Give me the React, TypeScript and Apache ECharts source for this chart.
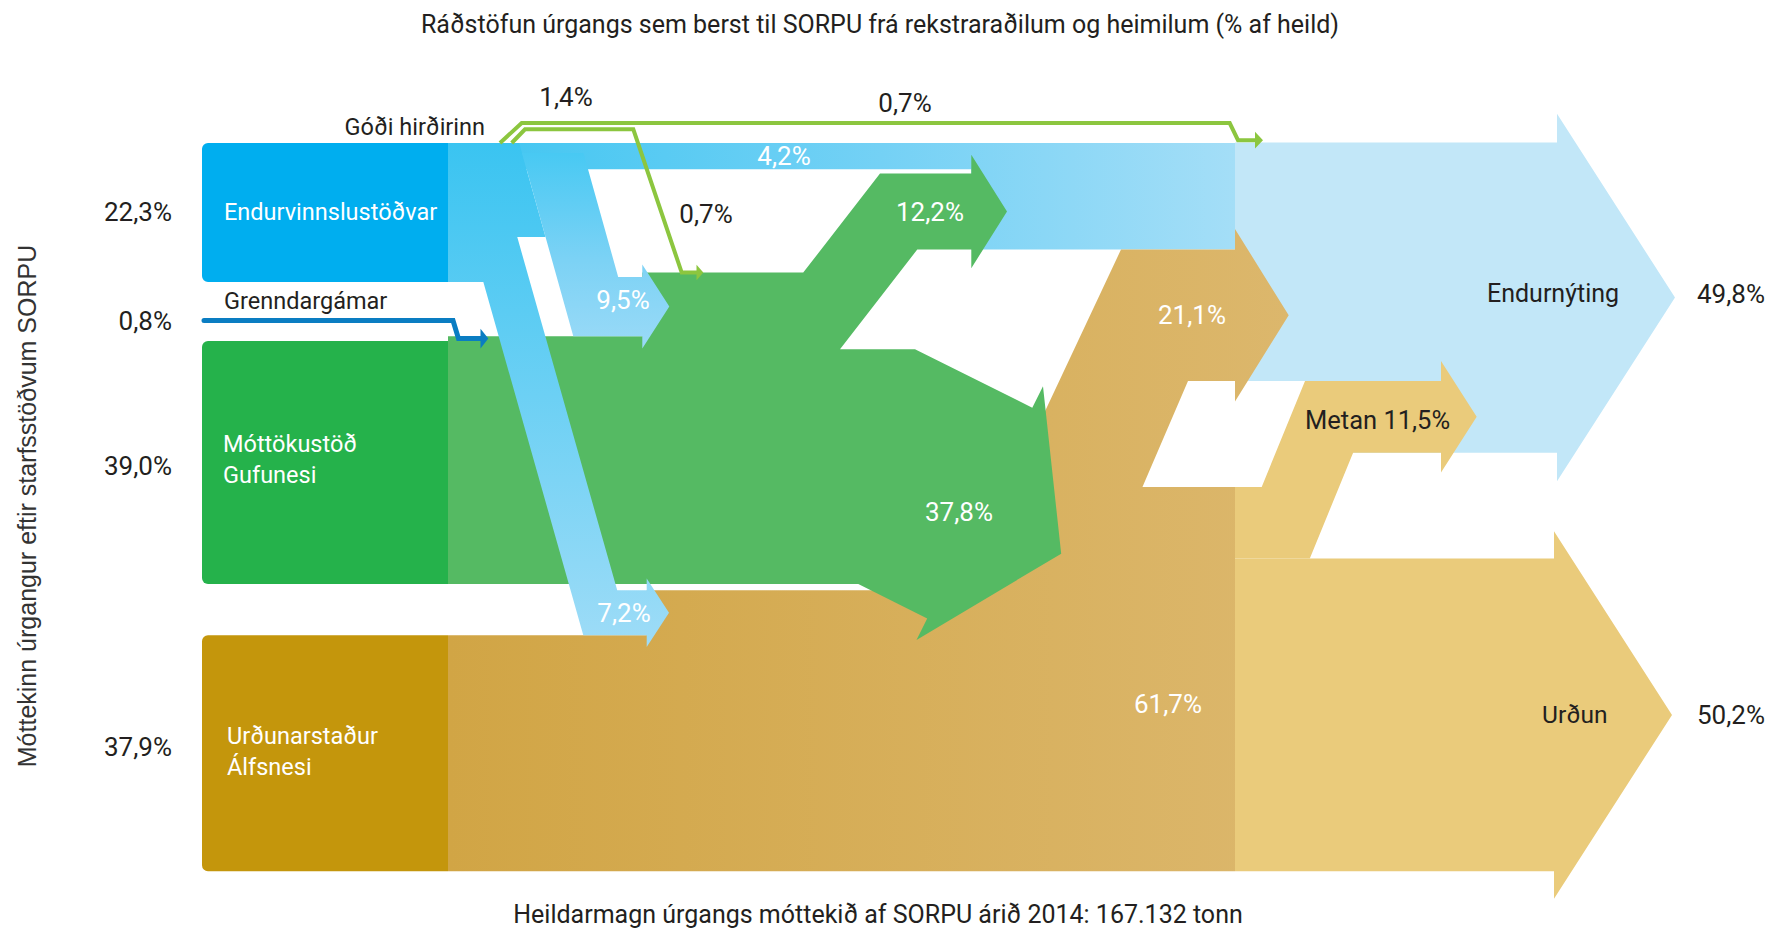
import React, { useEffect, useRef } from "react";
import * as echarts from "echarts";

// ---------------- data (share of total, %) ----------------
const nodeNames = ["Endurvinnslustöðvar", "Grenndargámar", "Móttökustöð\nGufunesi", "Urðunarstaður\nÁlfsnesi"];
const nodeValues = [22.3, 0.8, 39.0, 37.9];
const goodiName = "Góði hirðirinn";
const goodiValues = [1.4, 0.7, 0.7]; // total, to Gufunes, to Endurnýting
const endurvOut = [4.2, 9.5, 7.2]; // to Endurnýting, to Gufunes, to Álfsnes
const gufunesOut = [12.2, 37.8]; // to Endurnýting, to Álfsnes
const alfsnesOut = [21.1, 61.7]; // to Endurnýting, kept at Álfsnes
const alfsnesEnd = [11.5, 50.2]; // Metan, Urðun
const outcomeNames = ["Endurnýting", "Urðun"];
const outcomeValues = [49.8, 50.2];
const titleText = "Ráðstöfun úrgangs sem berst til SORPU frá rekstraraðilum og heimilum (% af heild)";
const axisTitle = "Móttekinn úrgangur eftir starfsstöðvum SORPU";
const footText = "Heildarmagn úrgangs móttekið af SORPU árið 2014: 167.132 tonn";

const pct = (v: number) => v.toFixed(1).replace(".", ",") + "%";

// ---------------- layout ----------------
const W = 1782, H = 929;
const K = 6.23; // px per percentage point
const ZERO_PX = 143;
const Y_MIN = -ZERO_PX / K, Y_MAX = (H - ZERO_PX) / K;
const GAP_1 = 9.5, GAP_2 = 8.2, GAP_B = 0.7;
const XL = 202, XR = 448, X_COL = 1235;

const DARK = "#231F20";
const FONT = "Roboto";
const WORD = 25, NUM = 26;

type P = [number, number];
const head = (x: number, top: number, bot: number, ov: number, len: number): P[] => [
  [x, top], [x, top - ov], [x + len, (top + bot) / 2], [x, bot + ov], [x, bot],
];
// edge through (x0,u0) with slope m (px of x per px of y)
const edge = (x0: number, u0: number, m: number) => (u: number) => x0 + m * (u - u0) * K;
const bandW = (v: number, m: number) => v * K * Math.sqrt(1 + m * m);

function buildShapes() {
  const endTop = 0, endBot = endTop + nodeValues[0];
  const gufTop = endBot + GAP_1, gufBot = gufTop + nodeValues[2];
  const alfTop = gufBot + GAP_2, alfBot = alfTop + nodeValues[3];
  const grenTop = gufTop - nodeValues[1];
  const b95Bot = grenTop, b95Top = b95Bot - endurvOut[1];
  const greenTop = b95Top - goodiValues[1];
  const b72Top = alfTop - endurvOut[2];
  const b42Top = endTop, b42Bot = b42Top + endurvOut[0];
  const g122Top = b42Bot + GAP_B, g122Bot = g122Top + gufunesOut[0];
  const a211Top = g122Bot, a211Bot = a211Top + alfsnesOut[0];
  const metTop = a211Bot, metBot = metTop + alfsnesEnd[0];
  const eTop = metBot - outcomeValues[0], eBot = metBot;
  const restTop = alfBot - alfsnesOut[1];
  const urdTop = alfBot - alfsnesEnd[1];
  const split = goodiValues[0] + endurvOut[0] + endurvOut[1];

  const shapes: any[] = [];
  const poly = (pts: P[], fill: any) => shapes.push({ kind: "poly", pts, fill });
  const lin = (dir: "h" | "v", c0: string, c1: string, mid?: string) => ({
    type: "linear", x: 0, y: 0, x2: dir === "h" ? 1 : 0, y2: dir === "v" ? 1 : 0,
    colorStops: mid
      ? [{ offset: 0, color: c0 }, { offset: 0.55, color: mid }, { offset: 1, color: c1 }]
      : [{ offset: 0, color: c0 }, { offset: 1, color: c1 }],
  });

  // Metan slanted band
  const mM = -0.409;
  const ML = edge(1261.7, restTop, mM);
  const wM = bandW(alfsnesEnd[0], mM);

  // 1. Endurnýting
  poly([[X_COL, eTop], ...head(1557, eTop, eBot, 4.6, 118), [ML(metTop), eBot], [ML(metTop), metTop], [X_COL, metTop]], "#C2E7F8");
  // 2. Urðun
  poly([[X_COL, urdTop], ...head(1554, urdTop, alfBot, 4.4, 118), [X_COL, alfBot]], "#EACB7B");
  // 3. Metan
  poly([[X_COL, restTop], [ML(restTop), restTop], [ML(metTop), metTop], ...head(1441, metTop, metBot, 3.2, 35.7),
    [ML(metBot) + wM, metBot], [ML(urdTop) + wM, urdTop], [X_COL, urdTop]], "#EACB7B");
  // 4. direct blue 4,2% + block into Endurnýting
  poly([[XR, b42Top], [X_COL, b42Top], [X_COL, g122Bot], [971.3, g122Bot], [971.3, b42Bot], [XR, b42Bot]],
    lin("h", "#3EC5F1", "#A4DEF7", "#74D1F5"));
  // 5. Álfsnes column with 21,1% arrow
  const L1 = edge(1121, a211Top, -0.47);
  const L2 = edge(1188, a211Bot, -0.43);
  poly([[XR, alfTop], [646.7, alfTop], [646.7, b72Top], [L1(b72Top), b72Top], [L1(a211Top), a211Top],
    ...head(X_COL, a211Top, a211Bot, 3.3, 53.7), [L2(a211Bot), a211Bot], [L2(restTop), restTop],
    [X_COL, restTop], [X_COL, alfBot], [XR, alfBot]], lin("h", "#D1A545", "#DCB76C"));
  // 6. Gufunes column with 12,2% and 37,8% arrows
  const m122 = -0.775;
  const T122 = edge(880, g122Top, m122);
  const w122 = bandW(gufunesOut[0], m122);
  const KINK = 33.1;
  const th = (26.5 * Math.PI) / 180;
  const d = [Math.cos(th), Math.sin(th)], n = [Math.sin(th), -Math.cos(th)];
  const t = gufunesOut[1] * K;
  const B0 = [858.3, gufBot * K];
  const N2 = [B0[0] + d[0] * 77, B0[1] + d[1] * 77];
  const N1 = [N2[0] + n[0] * t, N2[1] + n[1] * t];
  const S1 = [N1[0] + n[0] * 24, N1[1] + n[1] * 24];
  const S2 = [N2[0] - n[0] * 24, N2[1] - n[1] * 24];
  const mid = [(N1[0] + N2[0]) / 2, (N1[1] + N2[1]) / 2];
  const TP = [mid[0] + d[0] * 91, mid[1] + d[1] * 91];
  const TS = [B0[0] + n[0] * t, B0[1] + n[1] * t];
  const s = (KINK * K - TS[1]) / d[1];
  const G13 = [TS[0] + d[0] * s, TS[1] + d[1] * s];
  const u = (q: number[]): P => [q[0], q[1] / K];
  poly([[XR, grenTop], [642.3, grenTop], [642.3, greenTop], [T122(greenTop), greenTop], [T122(g122Top), g122Top],
    ...head(971.3, g122Top, g122Bot, 3.0, 35.7), [T122(g122Bot) + w122, g122Bot], [T122(KINK) + w122, KINK],
    u(G13), u(N1), u(S1), u(TP), u(S2), u(N2), u(B0), [XR, gufBot]], "#55BA63");
  // 7. source + 7,2% arrow
  const m95 = 0.28, m72 = 0.283;
  const L95 = edge(573.3, b95Bot, m95), w95 = bandW(endurvOut[1], m95);
  const L72 = edge(583.3, alfTop, m72), w72 = bandW(endurvOut[2], m72);
  poly([[XR, endTop], [L95(endTop), endTop], [L95(split), split], [L72(split) + w72, split], [L72(b72Top) + w72, b72Top],
    ...head(646.7, b72Top, alfTop, 1.9, 22.3), [L72(alfTop), alfTop], [L72(endBot), endBot], [XR, endBot]],
    lin("v", "#3AC4F1", "#9EDCF7"));
  // 8. 9,5% arrow
  const S95 = 1.6;
  poly([[L95(S95), S95], [L95(S95) + w95, S95], [L95(b95Top) + w95, b95Top], ...head(642.3, b95Top, b95Bot, 2.0, 27),
    [L95(b95Bot), b95Bot]], lin("v", "#48C9F3", "#9ADAF7", "#7CD2F5"));
  // 9. node boxes
  const boxColors = ["#00AEEF", "#25B24B", "#C4960C"];
  [[endTop, endBot], [gufTop, gufBot], [alfTop, alfBot]].forEach((b, i) =>
    shapes.push({ kind: "rect", pts: [[XL, b[0]], [XR, b[1]]], fill: boxColors[i] }));
  // 10. Grenndargámar line
  const gy = (grenTop + gufTop) / 2, gl = 28.5;
  shapes.push({ kind: "line", pts: [[XL + 2, gl], [453, gl], [458.5, gy], [482, gy]], stroke: "#0A7DC2", width: 5, cap: "round" });
  poly([[480.5, gy - 1.6], [488.3, gy], [480.5, gy + 1.6]], "#0A7DC2");
  // 11. Góði hirðirinn lines
  const go = eTop - goodiValues[2] / 2;
  shapes.push({ kind: "line", pts: [[500, endTop], [521.7, -3.2], [1229.7, -3.2], [1238, go], [1256, go]], stroke: "#8CC63F", width: 4, cap: "butt" });
  poly([[1255, go - 1.35], [1263, go], [1255, go + 1.35]], "#8CC63F");
  shapes.push({ kind: "line", pts: [[511.7, endTop], [525, -2.2], [633.3, -2.2], [681.7, greenTop], [697, greenTop]], stroke: "#8CC63F", width: 4, cap: "butt" });
  poly([[696.5, greenTop - 1.25], [703.3, greenTop], [696.5, greenTop + 1.25]], "#8CC63F");

  // ---------- labels ----------
  const labels: any[] = [];
  const lab = (x: number, uu: number, text: string, fill: string, size: number, align = "center", lh?: number) =>
    labels.push({ x, u: uu, text, fill, size, align, lh });
  // left shares
  lab(172, (endTop + endBot) / 2, pct(nodeValues[0]), DARK, NUM, "right");
  lab(172, gl, pct(nodeValues[1]), DARK, NUM, "right");
  lab(172, (gufTop + gufBot) / 2 + 0.5, pct(nodeValues[2]), DARK, NUM, "right");
  lab(172, (alfTop + alfBot) / 2 - 1, pct(nodeValues[3]), DARK, NUM, "right");
  // node names
  lab(224, (endTop + endBot) / 2, nodeNames[0], "#FFFFFF", 23.5, "left");
  lab(224, gl - 3.1, nodeNames[1], DARK, 23.5, "left");
  lab(223, (gufTop + gufBot) / 2 - 0.5, nodeNames[2], "#FFFFFF", 23.5, "left", 31);
  lab(227, (alfTop + alfBot) / 2 - 0.3, nodeNames[3], "#FFFFFF", 23.5, "left", 31);
  lab(485, -2.6, goodiName, DARK, 23.5, "right");
  // flow labels
  lab(566, -7.45, pct(goodiValues[0]), DARK, NUM);
  lab(905, -6.5, pct(goodiValues[2]), DARK, NUM);
  lab(706, 11.35, pct(goodiValues[1]), DARK, NUM);
  lab(784, (b42Top + b42Bot) / 2, pct(endurvOut[0]), "#FFFFFF", NUM);
  lab(623, (b95Top + b95Bot) / 2 - 1, pct(endurvOut[1]), "#FFFFFF", NUM);
  lab(624, (b72Top + alfTop) / 2, pct(endurvOut[2]), "#FFFFFF", NUM);
  lab(930, (g122Top + g122Bot) / 2, pct(gufunesOut[0]), "#FFFFFF", NUM);
  lab(959, 59.3, pct(gufunesOut[1]), "#FFFFFF", NUM);
  lab(1192, (a211Top + a211Bot) / 2, pct(alfsnesOut[0]), "#FFFFFF", NUM);
  lab(1168, 90.1, pct(alfsnesOut[1]), "#FFFFFF", NUM);
  // outcomes
  lab(1305, (metTop + metBot) / 2 + 0.5, "Metan " + pct(alfsnesEnd[0]), DARK, WORD + 0.5, "left");
  lab(1487, (eTop + eBot) / 2 - 0.6, outcomeNames[0], DARK, WORD, "left");
  lab(1697, (eTop + eBot) / 2 - 0.6, pct(outcomeValues[0]), DARK, NUM, "left");
  lab(1542, (urdTop + alfBot) / 2, outcomeNames[1], DARK, 24.5, "left");
  lab(1697, (urdTop + alfBot) / 2, pct(outcomeValues[1]), DARK, NUM, "left");
  return { shapes, labels };
}

export default function App() {
  const ref = useRef<HTMLDivElement>(null);
  useEffect(() => {
    if (!ref.current) return;
    const chart = echarts.init(ref.current, null, { renderer: "svg" });
    const { shapes, labels } = buildShapes();
    chart.setOption({
      animation: false,
      backgroundColor: "#FFFFFF",
      grid: { left: 0, right: 0, top: 0, bottom: 0 },
      xAxis: { type: "value", min: 0, max: W, show: false },
      yAxis: { type: "value", min: Y_MIN, max: Y_MAX, inverse: true, show: false },
      series: [
        {
          type: "custom",
          silent: true,
          clip: false,
          data: shapes.map((_: any, i: number) => [0, 0, i]),
          renderItem: (params: any, api: any) => {
            const sh = shapes[params.dataIndex];
            const pts = sh.pts.map((p: P) => api.coord(p));
            if (sh.kind === "rect") {
              const [a, b] = pts;
              return { type: "rect", shape: { x: a[0], y: a[1], width: b[0] - a[0], height: b[1] - a[1], r: [6, 0, 0, 6] }, style: { fill: sh.fill } };
            }
            if (sh.kind === "line") {
              return { type: "polyline", shape: { points: pts }, style: { stroke: sh.stroke, lineWidth: sh.width, fill: null, lineCap: sh.cap, lineJoin: "miter" } };
            }
            return { type: "polygon", shape: { points: pts }, style: { fill: sh.fill } };
          },
        },
        {
          type: "custom",
          silent: true,
          clip: false,
          data: labels.map((_: any, i: number) => [0, 0, i]),
          renderItem: (params: any, api: any) => {
            const l = labels[params.dataIndex];
            const [x, y] = api.coord([l.x, l.u]);
            return {
              type: "text", x, y,
              style: { text: l.text, fill: l.fill, fontSize: l.size, fontFamily: FONT, align: l.align, verticalAlign: "middle", lineHeight: l.lh || l.size * 1.2 },
            };
          },
        },
      ],
      graphic: [
        { type: "text", x: 880, y: 24, style: { text: titleText, fill: DARK, fontSize: 25, fontFamily: FONT, align: "center", verticalAlign: "middle" } },
        { type: "text", x: 878, y: 914, style: { text: footText, fill: DARK, fontSize: 25, fontFamily: FONT, align: "center", verticalAlign: "middle" } },
        { type: "text", x: 27, y: 506, rotation: Math.PI / 2, style: { text: axisTitle, fill: "#333333", fontSize: 25, fontFamily: "Liberation Sans", align: "center", verticalAlign: "middle" } },
      ],
    });
    return () => chart.dispose();
  }, []);
  return <div ref={ref} style={{ position: "fixed", left: 0, top: 0, width: W, height: H }} />;
}
